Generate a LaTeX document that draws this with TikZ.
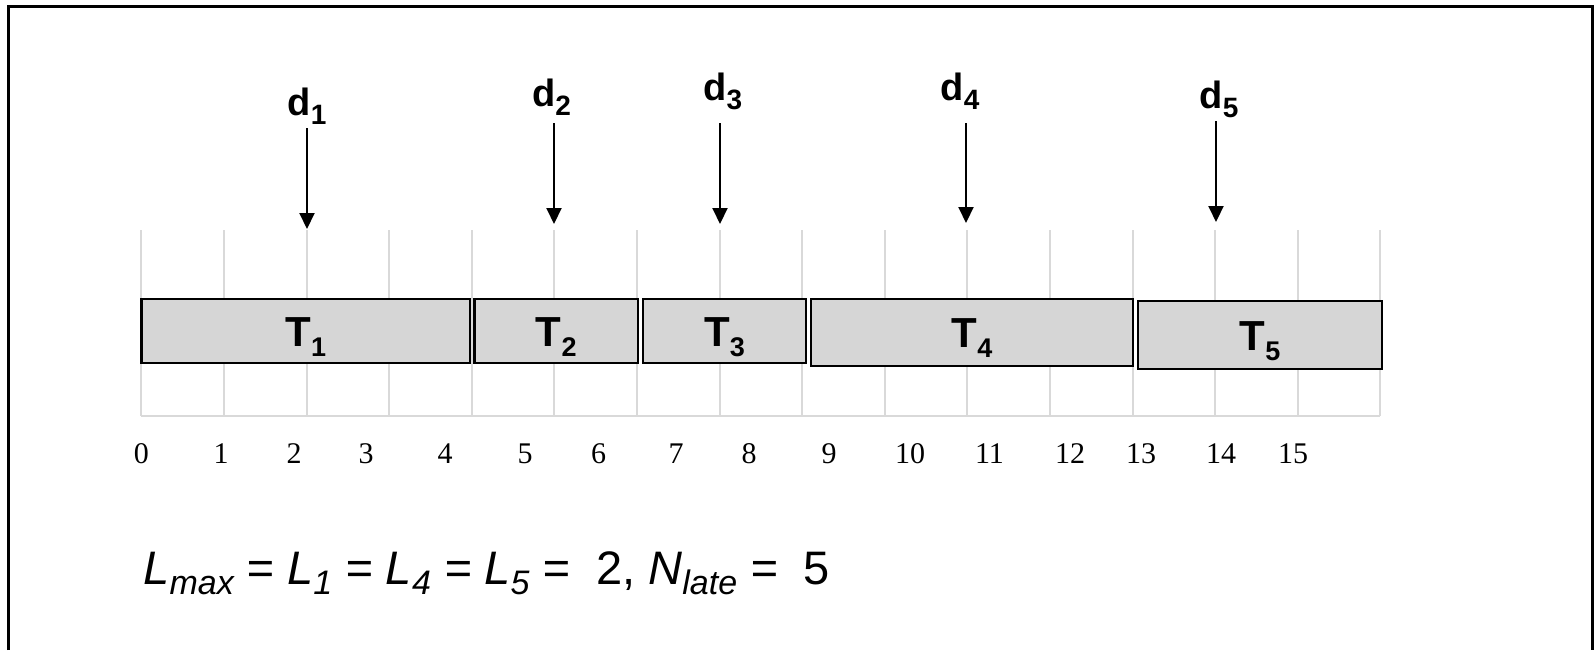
\documentclass[tikz,border=0pt]{standalone}
\usepackage{fontspec}
\setmainfont{Liberation Serif}
\setsansfont{Liberation Sans}
\usetikzlibrary{arrows.meta}
\definecolor{gridgray}{RGB}{217,217,217}
\definecolor{jobgray}{RGB}{214,214,214}
\newcommand{\duelabel}[1]{\sffamily\bfseries\fontsize{19}{19}\selectfont
  d\raisebox{-4.5pt}{\fontsize{14}{14}\selectfont #1}}
\newcommand{\joblabel}[1]{\sffamily\bfseries\fontsize{21}{21}\selectfont
  T\raisebox{-5pt}{\fontsize{13.5}{13.5}\selectfont #1}}
\newcommand{\lowsub}[1]{\raisebox{-5.3pt}{\fontsize{17}{17}\selectfont #1}}
\tikzset{
  job/.style={draw=black, line width=1.25pt, fill=jobgray, inner sep=0pt,
    text height=15pt, text depth=0pt},
  tick/.style={gridgray, line width=1pt},
  due/.style={-{Triangle[width=7.5pt, length=8pt]}, line width=1pt},
  num/.style={anchor=base, font=\fontsize{15}{15}\selectfont},
}
\begin{document}
\begin{tikzpicture}[x=0.5pt, y=-0.5pt]
    \useasboundingbox (0,0) rectangle (1595,650);
    \draw[line width=1.5pt] (8.5,650) -- (8.5,6) -- (1592,6) -- (1592,650);
    \foreach \i in {0,...,15}
      \draw[tick] ({141.3+82.6*\i},230) -- ({141.3+82.6*\i},416);
    \draw[tick] (141.3,416) -- (1380.3,416);
    \foreach \n/\px in {0/141.4, 1/221, 2/294, 3/366, 4/445, 5/525, 6/598.5,
        7/676, 8/749, 9/829, 10/910, 11/989.5, 12/1070, 13/1141, 14/1221, 15/1293}
      \node[num] (n\n) at (\px,463) {\n};
    \node[job, minimum width=164.3pt, minimum height=32pt] (t1)
      at (305.7,331) {\joblabel{1}};
    \node[job, minimum width=81.75pt, minimum height=32pt] (t2)
      at (556.25,331) {\joblabel{2}};
    \node[job, minimum width=81.5pt, minimum height=32pt] (t3)
      at (724.5,331) {\joblabel{3}};
    \node[job, minimum width=161pt, minimum height=33.5pt] (t4)
      at (972,332.5) {\joblabel{4}};
    \node[job, minimum width=122pt, minimum height=34pt] (t5)
      at (1260,335) {\joblabel{5}};
    \node[anchor=base] (d1) at (307,115) {\duelabel{1}};
    \node[anchor=base] (d2) at (551.6,106) {\duelabel{2}};
    \node[anchor=base] (d3) at (722.7,100) {\duelabel{3}};
    \node[anchor=base] (d4) at (960,100) {\duelabel{4}};
    \node[anchor=base] (d5) at (1219,108) {\duelabel{5}};
    \coordinate (s1) at (307,128);  \coordinate (e1) at (307,229);
    \coordinate (s2) at (554,123);  \coordinate (e2) at (554,224);
    \coordinate (s3) at (720,123);  \coordinate (e3) at (720,224);
    \coordinate (s4) at (966,123);  \coordinate (e4) at (966,223);
    \coordinate (s5) at (1216,121); \coordinate (e5) at (1216,222);
    \draw[due] (s1) -- (e1);
    \draw[due] (s2) -- (e2);
    \draw[due] (s3) -- (e3);
    \draw[due] (s4) -- (e4);
    \draw[due] (s5) -- (e5);
    \node[anchor=base west, inner sep=0pt,
      font=\sffamily\itshape\fontsize{23.5}{23.5}\selectfont] (lmax)
      at (143,584)
      {L\lowsub{max} = L\lowsub{1} = L\lowsub{4} = L\lowsub{5} =~~{\upshape 2,}
       N\lowsub{late} =~~{\upshape 5}};
  \end{tikzpicture}
\end{document}
